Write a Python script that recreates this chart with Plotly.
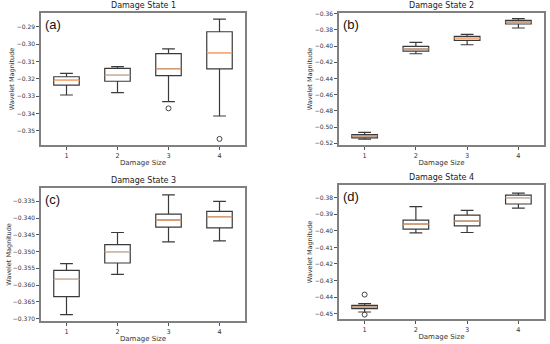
import plotly.graph_objects as go

sizes = [1, 2, 3, 4]
titles = ["Damage State 1", "Damage State 2", "Damage State 3", "Damage State 4"]
letters = ["(a)", "(b)", "(c)", "(d)"]

# Damage state 1
ds1_low = [-0.3293, -0.3280, -0.3331, -0.3414]
ds1_q1 = [-0.3236, -0.3214, -0.3182, -0.3143]
ds1_med = [-0.3209, -0.3180, -0.3142, -0.3049]
ds1_q3 = [-0.3188, -0.3140, -0.3055, -0.2929]
ds1_high = [-0.3169, -0.3130, -0.3027, -0.2856]
ds1_out_x = [3, 4]
ds1_out_y = [-0.3370, -0.3546]

# Damage state 2
ds2_low = [-0.5150, -0.4095, -0.3984, -0.3777]
ds2_q1 = [-0.5134, -0.4062, -0.3930, -0.3728]
ds2_med = [-0.5109, -0.4037, -0.3905, -0.3703]
ds2_q3 = [-0.5093, -0.4004, -0.3880, -0.3682]
ds2_high = [-0.5064, -0.3955, -0.3856, -0.3662]
ds2_out_x = []
ds2_out_y = []

# Damage state 3
ds3_low = [-0.3688, -0.3568, -0.3471, -0.3468]
ds3_q1 = [-0.3634, -0.3534, -0.3427, -0.3429]
ds3_med = [-0.3583, -0.3500, -0.3406, -0.3396]
ds3_q3 = [-0.3556, -0.3479, -0.3388, -0.3380]
ds3_high = [-0.3536, -0.3443, -0.3331, -0.3350]
ds3_out_x = []
ds3_out_y = []

# Damage state 4
ds4_low = [-0.4490, -0.4012, -0.4010, -0.3863]
ds4_q1 = [-0.4470, -0.3990, -0.3970, -0.3838]
ds4_med = [-0.4460, -0.3959, -0.3941, -0.3800]
ds4_q3 = [-0.4450, -0.3935, -0.3905, -0.3784]
ds4_high = [-0.4440, -0.3854, -0.3877, -0.3772]
ds4_out_x = [1, 1]
ds4_out_y = [-0.4385, -0.4506]

# Axis ticks
ticks1 = [-0.29, -0.30, -0.31, -0.32, -0.33, -0.34, -0.35]
ticks2 = [-0.36, -0.38, -0.40, -0.42, -0.44, -0.46, -0.48, -0.50, -0.52]
ticks3 = [-0.335, -0.340, -0.345, -0.350, -0.355, -0.360, -0.365, -0.370]
ticks4 = [-0.38, -0.39, -0.40, -0.41, -0.42, -0.43, -0.44, -0.45]
ranges = [[-0.3581, -0.2821], [-0.5221, -0.3592], [-0.37069, -0.33103], [-0.45323, -0.37233]]
decimals = [2, 2, 3, 2]

panels = [
    (ds1_low, ds1_q1, ds1_med, ds1_q3, ds1_high, ds1_out_x, ds1_out_y, ticks1),
    (ds2_low, ds2_q1, ds2_med, ds2_q3, ds2_high, ds2_out_x, ds2_out_y, ticks2),
    (ds3_low, ds3_q1, ds3_med, ds3_q3, ds3_high, ds3_out_x, ds3_out_y, ticks3),
    (ds4_low, ds4_q1, ds4_med, ds4_q3, ds4_high, ds4_out_x, ds4_out_y, ticks4),
]

W, H = 550, 344
# pixel frames (left, right, top, bottom)
frames = [(41, 245, 13, 145), (339, 544, 13, 145), (41, 245, 188, 321), (339, 544, 185, 319)]

FONT = "DejaVu Sans"
BOXC = "#3a3a3a"
MEDC = "#f7ae7e"
FRAMEC = "#808080"

fig = go.Figure()
layout = dict(
    width=W, height=H, margin=dict(l=0, r=0, t=0, b=0, autoexpand=False),
    paper_bgcolor="white", plot_bgcolor="white", showlegend=False,
    boxmode="overlay", font=dict(family=FONT, color="#333", size=7),
)
annotations = []

for i, (lo, q1, med, q3, hi, ox, oy, ticks) in enumerate(panels):
    n = i + 1
    xa = "x" if n == 1 else f"x{n}"
    ya = "y" if n == 1 else f"y{n}"
    fig.add_trace(go.Box(
        x=sizes, q1=q1, median=med, q3=q3, lowerfence=lo, upperfence=hi,
        width=0.5, whiskerwidth=0.5, fillcolor="rgba(0,0,0,0)",
        line=dict(color=BOXC, width=1.2), boxpoints=False,
        xaxis=xa, yaxis=ya, hoverinfo="skip"))
    fig.add_trace(go.Box(
        x=sizes, q1=med, median=med, q3=med, lowerfence=med, upperfence=med,
        width=0.5, whiskerwidth=0.0, fillcolor="rgba(0,0,0,0)",
        line=dict(color=MEDC, width=1.2), boxpoints=False,
        xaxis=xa, yaxis=ya, hoverinfo="skip"))
    if ox:
        fig.add_trace(go.Scatter(
            x=ox, y=oy, mode="markers",
            marker=dict(symbol="circle-open", size=5, color="#444", line=dict(width=1)),
            xaxis=xa, yaxis=ya, hoverinfo="skip"))
    l, r, t, b = frames[i]
    xdom = [l / W, r / W]
    ydom = [1 - b / H, 1 - t / H]
    d = decimals[i]
    ticktext = [("\u2212" if v < 0 else "") + f"{abs(v):.{d}f}" for v in ticks]
    layout["xaxis" if n == 1 else f"xaxis{n}"] = dict(
        domain=xdom, anchor=ya, range=[0.5, 4.5], tickvals=sizes,
        ticktext=[str(s) for s in sizes], ticks="outside", ticklen=3,
        tickcolor="#555", showgrid=False, zeroline=False, showline=True,
        linecolor=FRAMEC, linewidth=1.5, mirror=True, automargin=False,
        tickfont=dict(size=6.5, family=FONT, color="#333"),
        title=dict(text="Damage Size", font=dict(size=7, family=FONT, color="#333"), standoff=2))
    layout["yaxis" if n == 1 else f"yaxis{n}"] = dict(
        domain=ydom, anchor=xa, range=ranges[i], tickvals=ticks, ticktext=ticktext,
        ticks="outside", ticklen=3, tickcolor="#555", showgrid=False, zeroline=False,
        showline=True, linecolor=FRAMEC, linewidth=1.5, mirror=True, automargin=False,
        tickfont=dict(size=6, family=FONT, color="#333"),
        title=dict(text="Wavelet Magnitude", font=dict(size=6.5, family=FONT, color="#333"), standoff=1))
    annotations.append(dict(
        text=titles[i], x=(xdom[0] + xdom[1]) / 2, y=ydom[1], xref="paper", yref="paper",
        xanchor="center", yanchor="bottom", yshift=1, showarrow=False,
        font=dict(size=8, family=FONT, color="#222")))
    annotations.append(dict(
        text=letters[i], x=xdom[0], y=ydom[1], xref="paper", yref="paper",
        xanchor="left", yanchor="top", xshift=2, yshift=-2, showarrow=False,
        font=dict(size=13, family="Liberation Sans", color="#111")))

layout["annotations"] = annotations
fig.update_layout(**layout)
fig.write_html("out.html", config={"displayModeBar": False},
               post_script="document.body.style.margin='0px';document.body.style.overflow='hidden';")
